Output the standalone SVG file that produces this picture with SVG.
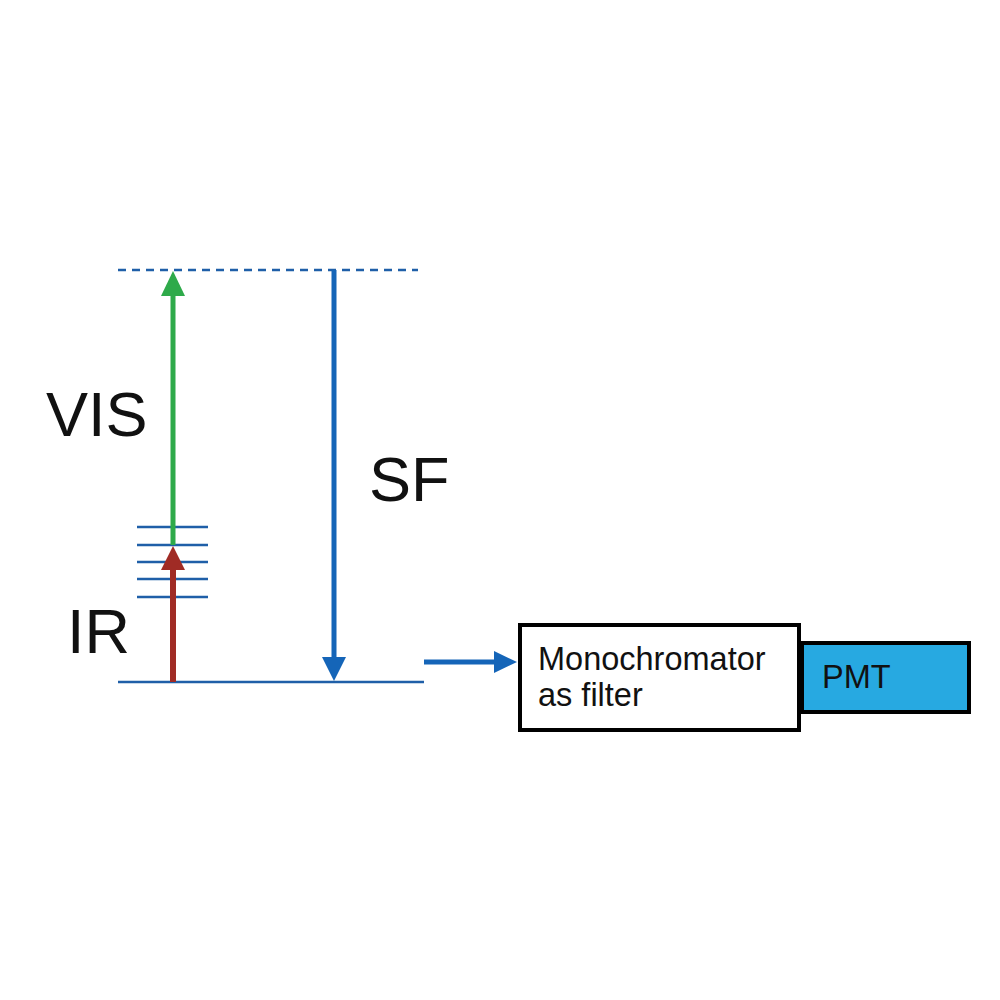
<svg xmlns="http://www.w3.org/2000/svg" width="1000" height="1000" viewBox="0 0 1000 1000">
<style>
.lvl{stroke:#1f5fa8;stroke-width:2.5}
.big{font-family:"Liberation Sans",Arial,sans-serif;font-size:63px;fill:#111}
.sm{font-family:"Liberation Sans",Arial,sans-serif;font-size:32.5px;fill:#111}
</style>
<rect width="1000" height="1000" fill="#fff"/>
<g id="levels">
<line x1="118" y1="270" x2="418" y2="270" class="lvl" stroke-dasharray="8,6"/>
<line x1="118" y1="682" x2="424" y2="682" class="lvl"/>
<line x1="137" y1="527" x2="208" y2="527" class="lvl"/>
<line x1="137" y1="545" x2="208" y2="545" class="lvl"/>
<line x1="137" y1="562" x2="208" y2="562" class="lvl"/>
<line x1="137" y1="579" x2="208" y2="579" class="lvl"/>
<line x1="137" y1="597" x2="208" y2="597" class="lvl"/>
</g>
<g id="connectors">
<line x1="173" y1="545" x2="173" y2="292" stroke="#2eaa4a" stroke-width="5"/>
<polygon points="161,296 185,296 173,271" fill="#2eaa4a"/>
<line x1="173" y1="682" x2="173" y2="568" stroke="#a02b25" stroke-width="6"/>
<polygon points="161,570 185,570 173,546" fill="#a02b25"/>
<line x1="334" y1="270" x2="334" y2="660" stroke="#1565b8" stroke-width="5"/>
<polygon points="322,657 346,657 334,681" fill="#1565b8"/>
<line x1="424" y1="662" x2="496" y2="662" stroke="#1565b8" stroke-width="5"/>
<polygon points="494,651 494,673 517,662" fill="#1565b8"/>
</g>
<g id="labels">
<text x="46" y="436" class="big">VIS</text>
<text x="369" y="501" class="big">SF</text>
<text x="67" y="653" class="big">IR</text>
</g>
<g id="mono">
<rect x="520" y="625" width="279" height="105" fill="#fff" stroke="#000" stroke-width="4"/>
<text x="538" y="670" class="sm">Monochromator</text>
<text x="538" y="706" class="sm">as filter</text>
</g>
<g id="pmt">
<rect x="802" y="643" width="167" height="69" fill="#27a9e1" stroke="#000" stroke-width="4"/>
<text x="822" y="688" class="sm" font-size="31">PMT</text>
</g>
</svg>
